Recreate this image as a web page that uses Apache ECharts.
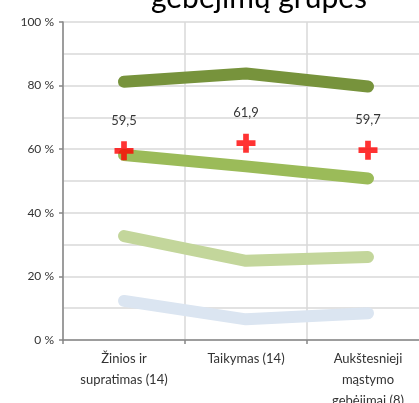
<!DOCTYPE html>
<html><head><meta charset="utf-8">
<script src="https://cdn.jsdelivr.net/npm/echarts@6/dist/echarts.min.js"></script>
<style>html,body{margin:0;padding:0;background:#fff}#c{width:419px;height:403px}</style>
</head><body><div id="c"></div>
<script>
const categories = ['Žinios ir\nsupratimas (14)', 'Taikymas (14)', 'Aukštesnieji\nmąstymo\ngebėjimai (8)'];
const seriesDark = [81.2, 83.8, 79.7];
const seriesMid = [58.2, 54.6, 50.8];
const seriesLight = [32.7, 24.9, 26.1];
const seriesBlue = [12.3, 6.5, 8.4];
const averages = [59.5, 61.9, 59.7];
const yTicks = [0, 20, 40, 60, 80, 100];

const font = 'Lato, "Open Sans", sans-serif';
function lineSeries(name, data, color) {
  return {
    name, type: 'line', data, showSymbol: false, symbol: 'none',
    lineStyle: { color, width: 12, cap: 'round', join: 'round' },
    itemStyle: { color }, z: 2
  };
}
const chart = echarts.init(document.getElementById('c'));
chart.setOption({
  animation: false,
  title: {
    text: 'gebėjimų grupes', left: 254, textAlign: 'center', top: -22,
    textStyle: { fontFamily: font, fontSize: 30, fontWeight: 'normal', color: '#000' }
  },
  grid: { left: 63, right: -10, top: 22, bottom: 63, outerBoundsMode: 'none', containLabel: false },
  xAxis: {
    type: 'category', data: categories, boundaryGap: true,
    axisLine: { lineStyle: { color: '#868686', width: 1.5 } },
    axisTick: { show: true, length: 4, lineStyle: { color: '#868686', width: 1.5 } },
    splitLine: { show: true, lineStyle: { color: '#d9d9d9', width: 1.5 } },
    axisLabel: { fontFamily: font, fontSize: 13, color: '#333', lineHeight: 21, margin: 8, interval: 0 }
  },
  yAxis: {
    type: 'value', min: yTicks[0], max: yTicks[yTicks.length - 1], interval: 20,
    axisLine: { show: true, lineStyle: { color: '#868686', width: 1.5 } },
    axisTick: { show: true, length: 4, lineStyle: { color: '#868686', width: 1.5 } },
    splitLine: { show: true, lineStyle: { color: '#d9d9d9', width: 1.5 } },
    minorTick: { show: false, splitNumber: 2 },
    minorSplitLine: { show: true, lineStyle: { color: '#d9d9d9', width: 1.5 } },
    axisLabel: { fontFamily: font, fontSize: 12, color: '#333', margin: 9, formatter: v => v + ' %' }
  },
  series: [
    lineSeries('dark', seriesDark, '#77933C'),
    lineSeries('mid', seriesMid, '#9BBB59'),
    lineSeries('light', seriesLight, '#C3D69B'),
    lineSeries('blue', seriesBlue, '#DBE5F1'),
    {
      name: 'avg', type: 'scatter', data: averages, z: 5,
      symbol: 'path://M7,0 H13 V7 H20 V13 H13 V20 H7 V13 H0 V7 H7 Z',
      symbolSize: 19, itemStyle: { color: '#FF0000' },
      label: {
        show: true, position: 'top', distance: 14,
        fontFamily: font, fontSize: 13, color: '#000',
        formatter: p => p.value.toFixed(1).replace('.', ',')
      }
    }
  ]
});
</script></body></html>
